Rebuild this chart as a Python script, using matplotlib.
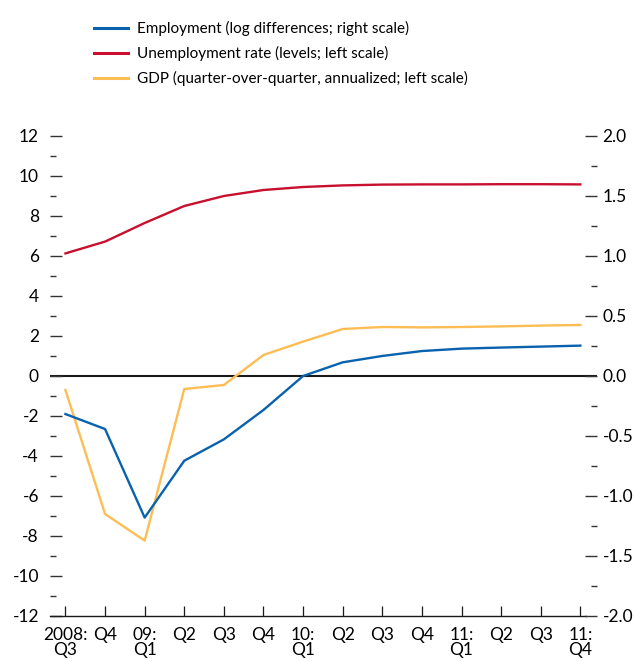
import matplotlib
matplotlib.use("Agg")
import numpy as np
import matplotlib.pyplot as plt
from matplotlib.lines import Line2D
from matplotlib.ticker import MultipleLocator

plt.rcParams['font.family'] = ['Lato', 'DejaVu Sans']
plt.rcParams['axes.unicode_minus'] = False

quarters = ['2008:\nQ3', 'Q4', '09:\nQ1', 'Q2', 'Q3', 'Q4', '10:\nQ1',
            'Q2', 'Q3', 'Q4', '11:\nQ1', 'Q2', 'Q3', '11:\nQ4']

# left scale
unemployment = [6.13, 6.72, 7.65, 8.5, 9.0, 9.3, 9.45, 9.53, 9.57, 9.58,
                9.58, 9.59, 9.59, 9.58]
gdp = [-0.7, -6.9, -8.23, -0.65, -0.45, 1.05, 1.72, 2.35, 2.45, 2.43,
       2.45, 2.48, 2.52, 2.55]
# right scale
employment = [-0.317, -0.442, -1.18, -0.706, -0.528, -0.283, 0.0, 0.114,
              0.167, 0.208, 0.228, 0.237, 0.245, 0.253]

left_ticks = list(range(-12, 13, 2))
right_ticks = [-2.0, -1.5, -1.0, -0.5, 0.0, 0.5, 1.0, 1.5, 2.0]

labels = ['Employment (log differences; right scale)',
          'Unemployment rate (levels; left scale)',
          'GDP (quarter-over-quarter, annualized; left scale)']

blue = '#0862ad'
red = '#c8102e'
yellow = '#fdbd55'
tick_col = '#333333'

fig = plt.figure(figsize=(6.36, 6.61), dpi=100)
ax = fig.add_axes([50 / 636, 1 - 616 / 661, 547 / 636, 480 / 661])
ax2 = ax.twinx()

x = np.arange(len(quarters))
ax.axhline(0, color='#1a1a1a', lw=1.5, zorder=1)
ax.plot(x, unemployment, color=red, lw=1.7, zorder=3)
ax.plot(x, gdp, color=yellow, lw=1.7, zorder=3)
ax2.plot(x, employment, color=blue, lw=1.7, zorder=3)

ax.set_xlim(-0.39, 13.42)
ax.set_ylim(-12, 12)
ax2.set_ylim(-2, 2)

for a in (ax, ax2):
    for s in a.spines.values():
        s.set_visible(False)
ax.spines['bottom'].set_visible(True)
ax.spines['bottom'].set_bounds(-0.39, 13.13)
ax.spines['bottom'].set_color('#1a1a1a')
ax.spines['bottom'].set_linewidth(1.0)

ax.set_xticks(x)
ax.set_xticklabels(quarters, fontsize=12.5, linespacing=0.95)
ax.tick_params(axis='x', direction='in', length=7, width=0.9, color='#1a1a1a', pad=8)

ax.set_yticks(left_ticks)
ax.set_yticklabels([str(v) for v in left_ticks])
ax.yaxis.set_minor_locator(MultipleLocator(1))
ax.tick_params(axis='y', which='major', direction='in', length=8.5, width=1.0,
               color=tick_col, labelsize=12.5, pad=8)
ax.tick_params(axis='y', which='minor', direction='in', length=4.5, width=1.0, color=tick_col)

ax2.set_yticks(right_ticks)
ax2.set_yticklabels([f'{v:.1f}' for v in right_ticks])
ax2.yaxis.set_minor_locator(MultipleLocator(0.25))
ax2.tick_params(axis='y', which='major', direction='in', length=8.5, width=1.0,
                color=tick_col, labelsize=12.5, pad=4)
ax2.tick_params(axis='y', which='minor', direction='in', length=4.5, width=1.0, color=tick_col)

handles = [Line2D([], [], color=blue, lw=2.2),
           Line2D([], [], color=red, lw=2.2),
           Line2D([], [], color=yellow, lw=2.2)]
fig.legend(handles, labels, loc='upper left', bbox_to_anchor=(88 / 636, 1 - 15 / 661),
           frameon=False, fontsize=11.0, handlelength=2.2, handletextpad=0.6,
           labelspacing=0.66, borderaxespad=0)

fig.savefig('out.png', dpi=100)
